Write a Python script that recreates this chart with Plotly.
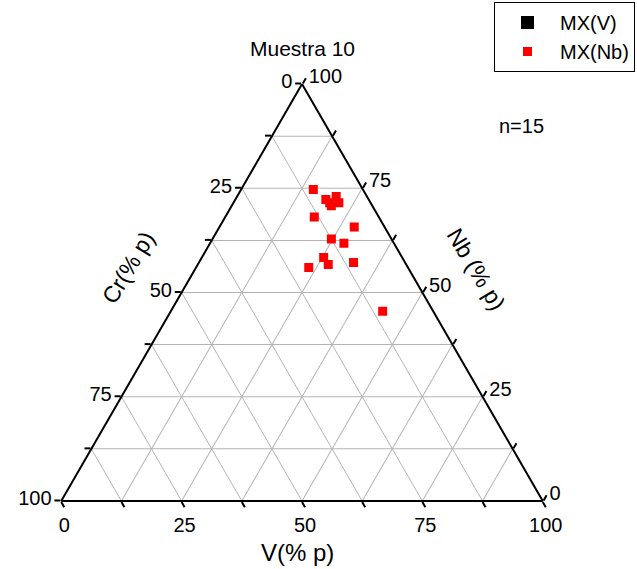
import plotly.graph_objects as go

# Composition of the MX precipitates, sample 10 (% p)
nb = [74.7, 72.3, 71.5, 73.0, 71.5, 70.8, 68.1, 65.7, 62.8, 61.8, 58.4, 56.7, 56.0, 57.2, 45.5]
v = [15.0, 18.8, 20.0, 20.6, 21.9, 20.7, 18.5, 28.0, 24.7, 27.8, 25.3, 27.1, 23.4, 32.1, 44.0]
cr = [round(100 - a - c, 1) for a, c in zip(nb, v)]

# MX(V) series has no measured particles in this sample (legend entry only)
nb_v, cr_v, v_v = [None], [None], [None]

tick_vals = [0, 12.5, 25, 37.5, 50, 62.5, 75, 87.5, 100]
tick_text_rev = ["100", "", "75", "", "50", "", "25", "", "0"]

FONT = "Arial, Liberation Sans, sans-serif"

fig = go.Figure()
fig.add_trace(go.Scatterternary(
    a=nb_v, b=cr_v, c=v_v, mode="markers", name="MX(V)",
    marker=dict(symbol="square", size=13, color="black"),
))
fig.add_trace(go.Scatterternary(
    a=nb, b=cr, c=v, mode="markers", name="MX(Nb)",
    marker=dict(symbol="square", size=9, color="red", line=dict(width=0)),
))

axis_common = dict(
    tickmode="array", tickvals=tick_vals, ticktext=tick_text_rev,
    ticks="outside", ticklen=6, tickwidth=1.5, tickcolor="black",
    linecolor="black", linewidth=2, showline=True,
    gridcolor="#b4b4b4", gridwidth=1, showgrid=True,
    tickfont=dict(family=FONT, size=20, color="black"),
    title=dict(text=""), min=0,
)

fig.update_layout(
    width=637, height=569,
    margin=dict(l=0, r=0, t=0, b=0),
    paper_bgcolor="white",
    ternary=dict(
        sum=100,
        bgcolor="white",
        domain=dict(x=[41 / 637, 563 / 637], y=[(569 - 501) / 569, (569 - 84) / 569]),
        aaxis=axis_common,
        baxis=axis_common,
        caxis=axis_common,
    ),
    showlegend=True,
    legend=dict(
        x=494 / 637, y=1 - 2 / 569, xanchor="left", yanchor="top",
        bordercolor="black", borderwidth=1, bgcolor="white",
        font=dict(family=FONT, size=20, color="black"),
        itemsizing="trace", itemwidth=55, tracegroupgap=0,
    ),
    font=dict(family=FONT, color="black"),
)

annotations = [
    dict(text="Muestra 10", x=302 / 637, y=1 - 48 / 569, font=dict(size=21)),
    dict(text="n=15", x=521 / 637, y=1 - 126 / 569, font=dict(size=20)),
    dict(text="V(% p)", x=297 / 637, y=1 - 552 / 569, font=dict(size=24)),
    dict(text="Cr(% p)", x=128 / 637, y=1 - 268 / 569, textangle=-59, font=dict(size=23)),
    dict(text="Nb (% p)", x=476 / 637, y=1 - 269 / 569, textangle=59, font=dict(size=23)),
]
for ann in annotations:
    ann.update(xref="paper", yref="paper", showarrow=False, xanchor="center", yanchor="middle")
    ann["font"].update(family=FONT, color="black")
fig.update_layout(annotations=annotations)

fig.write_html("out.html")
